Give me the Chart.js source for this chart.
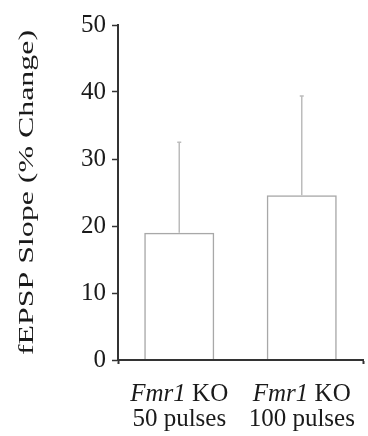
<!DOCTYPE html>
<html>
<head>
<meta charset="utf-8">
<script src="https://cdn.jsdelivr.net/npm/chart.js@4"></script>
<style>
html,body{margin:0;padding:0;background:#fff;}
#wrap{width:368px;height:436px;}
.pre{font-family:'Liberation Serif';position:absolute;left:-999px;}
</style>
</head>
<body>
<span class="pre">0 <i>F</i></span>
<div id="wrap"><canvas id="c" width="368" height="436"></canvas></div>
<script>
// ---- data ----
const categoryGene = ['Fmr1', 'Fmr1'];
const categoryGenotype = ['KO', 'KO'];
const categoryPulses = ['50 pulses', '100 pulses'];
const slopeChange = [19.0, 24.6];
const slopeError = [13.5, 14.8];
const yTicks = [0, 10, 20, 30, 40, 50];
const yTitle = 'fEPSP Slope (% Change)';

const labels = categoryGene.map((g, i) => [g + ' ' + categoryGenotype[i], categoryPulses[i]]);
const SERIF = "'Liberation Serif', serif";

const bgPlugin = {
  id: 'bg',
  beforeDraw(chart) {
    const ctx = chart.ctx;
    ctx.save();
    ctx.fillStyle = '#fff';
    ctx.fillRect(0, 0, chart.width, chart.height);
    ctx.restore();
  }
};

const errorPlugin = {
  id: 'errbars',
  afterDatasetsDraw(chart) {
    const ctx = chart.ctx;
    const meta = chart.getDatasetMeta(0);
    const y = chart.scales.y;
    ctx.save();
    ctx.strokeStyle = '#bcbcbc';
    ctx.lineWidth = 1.5;
    meta.data.forEach((bar, i) => {
      const x = bar.x;
      const y0 = y.getPixelForValue(slopeChange[i]);
      const y1 = y.getPixelForValue(slopeChange[i] + slopeError[i]);
      ctx.beginPath();
      ctx.moveTo(x, y0);
      ctx.lineTo(x, y1);
      ctx.moveTo(x - 2, y1);
      ctx.lineTo(x + 2, y1);
      ctx.stroke();
    });
    ctx.restore();
  }
};

const labelPlugin = {
  id: 'catlabels',
  afterDraw(chart) {
    const ctx = chart.ctx;
    const xs = chart.scales.x;
    ctx.save();
    ctx.fillStyle = '#1a1a1a';
    ctx.textBaseline = 'alphabetic';
    ctx.textAlign = 'left';
    const size = 25;
    const it = 'italic ' + size + 'px ' + SERIF;
    const nm = size + 'px ' + SERIF;
    categoryGene.forEach((g, i) => {
      const cx = xs.getPixelForTick(i);
      ctx.font = it;
      const w1 = ctx.measureText(g).width;
      ctx.font = nm;
      const rest = ' ' + categoryGenotype[i];
      const w2 = ctx.measureText(rest).width;
      let x = cx - (w1 + w2) / 2;
      ctx.font = it;
      ctx.fillText(g, x, 401);
      ctx.font = nm;
      ctx.fillText(rest, x + w1, 401);
      ctx.textAlign = 'center';
      ctx.fillText(categoryPulses[i], cx, 426);
      ctx.textAlign = 'left';
    });
    // y title (stretched along its length as in the reference)
    const area = chart.chartArea;
    ctx.font = '22px ' + SERIF;
    const tw = ctx.measureText(yTitle).width;
    const target = 325;
    ctx.translate(33, (area.top + area.bottom) / 2);
    ctx.rotate(-Math.PI / 2);
    ctx.scale(target / tw, 1);
    ctx.textAlign = 'center';
    ctx.fillText(yTitle, 0, 0);
    ctx.restore();
  }
};

function build() {
  return new Chart(document.getElementById('c'), {
    type: 'bar',
    data: {
      labels: labels,
      datasets: [{
        data: slopeChange,
        backgroundColor: 'rgba(255,255,255,0)',
        borderColor: '#a8a8a8',
        borderWidth: 1.5,
        barPercentage: 0.572,
        categoryPercentage: 1.0
      }]
    },
    options: {
      responsive: false,
      animation: false,
      devicePixelRatio: 1,
      layout: { padding: { left: 0, right: 5, top: 25, bottom: 0 } },
      plugins: { legend: { display: false }, tooltip: { enabled: false }, title: { display: false } },
      scales: {
        x: {
          offset: true,
          grid: {
            offset: true,
            drawOnChartArea: false,
            drawTicks: true,
            tickLength: 4,
            tickWidth: 2,
            tickColor: (c) => (c.index === 1 ? 'rgba(0,0,0,0)' : '#333')
          },
          border: { display: true, color: '#333', width: 2, z: 1 },
          ticks: { display: false },
          afterFit(s) { s.height = 76; }
        },
        y: {
          min: 0,
          max: 50,
          afterBuildTicks(s) { s.ticks = yTicks.map(v => ({ value: v })); },
          grid: {
            drawOnChartArea: false,
            drawTicks: true,
            tickLength: 6,
            tickWidth: 1.5,
            tickColor: '#333'
          },
          border: { display: true, color: '#333', width: 2, z: 1 },
          ticks: {
            color: '#1a1a1a',
            padding: 6,
            font: { family: SERIF, size: 25 }
          },
          afterFit(s) { s.width = 118; }
        }
      }
    },
    plugins: [bgPlugin, errorPlugin, labelPlugin]
  });
}
const chart = build();
if (document.fonts && document.fonts.ready) {
  document.fonts.ready.then(() => chart.update());
}
</script>
</body>
</html>
